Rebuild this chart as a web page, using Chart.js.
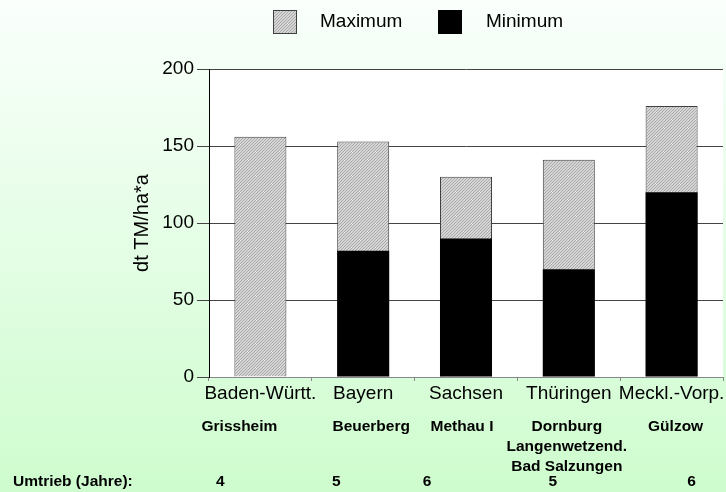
<!DOCTYPE html>
<html>
<head>
<meta charset="utf-8">
<script src="https://cdn.jsdelivr.net/npm/chart.js@4.4.1/dist/chart.umd.min.js"></script>
<style>
  html, body { margin: 0; padding: 0; background: #fff; }
  #chart { display: block; }
</style>
</head>
<body>
<canvas id="chart" width="726" height="492"></canvas>
<script>
// data
const states = ['Baden-Württ.', 'Bayern', 'Sachsen', 'Thüringen', 'Meckl.-Vorp.'];
const sites = [['Grissheim'], ['Beuerberg'], ['Methau I'], ['Dornburg', 'Langenwetzend.', 'Bad Salzungen'], ['Gülzow']];
const rotationYears = [4, 5, 6, 5, 6];
const maxYield = [156, 153, 130, 141, 176];
const minYield = [null, 82, 90, 70, 120];
const yTicks = [0, 50, 100, 150, 200];
const rotationLabel = 'Umtrieb (Jahre):';
const yTitle = 'dt TM/ha*a';

// layout tweaks (pixels, relative to the category centre)
const siteShift = [-21, 8, -4, -2, 4];
const yearShift = [-40, -27, -39, -16, 20];

const FONT = '"Liberation Sans", Arial, Helvetica, sans-serif';

function makeHatch() {
    const c = document.createElement('canvas');
    c.width = 3;
    c.height = 3;
    const g = c.getContext('2d');
    const img = g.createImageData(3, 3);
    for (let y = 0; y < 3; y++) {
        for (let x = 0; x < 3; x++) {
            const i = (y * 3 + x) * 4;
            const v = (x + y) % 3 === 2 ? 168 : 214;
            img.data[i] = v;
            img.data[i + 1] = v;
            img.data[i + 2] = v;
            img.data[i + 3] = 255;
        }
    }
    g.putImageData(img, 0, 0);
    return g.createPattern(c, 'repeat');
}

const canvas = document.getElementById('chart');
const ctx = canvas.getContext('2d');
const hatch = makeHatch();

const backgroundPlugin = {
    id: 'background',
    beforeDraw(chart) {
        const c = chart.ctx;
        const grad = c.createLinearGradient(0, 0, 0, chart.height);
        grad.addColorStop(0, 'rgb(250,255,252)');
        grad.addColorStop(1, 'rgb(206,252,206)');
        c.save();
        c.fillStyle = grad;
        c.fillRect(0, 0, chart.width, chart.height);
        const a = chart.chartArea;
        c.fillStyle = '#ffffff';
        c.fillRect(a.left, a.top, a.right - a.left, a.bottom - a.top);
        c.restore();
    }
};

const legendPlugin = {
    id: 'topLegend',
    afterDraw(chart) {
        const c = chart.ctx;
        const items = [
            { ds: chart.data.datasets[0], box: 273, text: 320 },
            { ds: chart.data.datasets[1], box: 438, text: 486 }
        ];
        c.save();
        c.font = '19px ' + FONT;
        c.textBaseline = 'middle';
        c.textAlign = 'left';
        items.forEach(it => {
            c.fillStyle = it.ds.backgroundColor;
            c.fillRect(it.box, 10, 24, 24);
            c.strokeStyle = it.ds.borderColor;
            c.lineWidth = 1;
            c.strokeRect(it.box + 0.5, 10.5, 23, 23);
            c.fillStyle = '#000';
            c.fillText(it.ds.label, it.text, 22);
        });
        c.restore();
    }
};

const rowsPlugin = {
    id: 'extraRows',
    afterDraw(chart) {
        const c = chart.ctx;
        const xs = chart.scales.x;
        c.save();
        c.font = 'bold 15.5px ' + FONT;
        c.fillStyle = '#000';
        c.textBaseline = 'middle';
        c.textAlign = 'center';
        sites.forEach((lines, i) => {
            const x = xs.getPixelForValue(i) + siteShift[i];
            lines.forEach((line, j) => {
                c.fillText(line, x, 427 + j * 19.7);
            });
        });
        rotationYears.forEach((n, i) => {
            c.fillText(String(n), xs.getPixelForValue(i) + yearShift[i], 481.5);
        });
        c.textAlign = 'left';
        c.fillText(rotationLabel, 13, 481.5);
        c.restore();
    }
};

new Chart(ctx, {
    type: 'bar',
    data: {
        labels: states,
        datasets: [
            {
                label: 'Maximum',
                data: maxYield,
                backgroundColor: hatch,
                borderColor: '#404040',
                borderWidth: 1,
                order: 2
            },
            {
                label: 'Minimum',
                data: minYield,
                backgroundColor: '#000000',
                borderColor: '#000000',
                borderWidth: 0,
                order: 1
            }
        ]
    },
    options: {
        responsive: false,
        animation: false,
        devicePixelRatio: 1,
        layout: { padding: { left: 130, right: 3, top: 69, bottom: 0 } },
        datasets: {
            bar: { grouped: false, categoryPercentage: 1, barPercentage: 0.506 }
        },
        plugins: {
            legend: { display: false },
            tooltip: { enabled: false }
        },
        scales: {
            x: {
                grid: {
                    display: true,
                    drawOnChartArea: false,
                    offset: true,
                    tickLength: 4,
                    color: '#888888'
                },
                border: { display: true, color: '#888888', width: 1 },
                ticks: {
                    color: '#000',
                    padding: 1,
                    maxRotation: 0,
                    autoSkip: false,
                    font: { family: FONT, size: 19 }
                },
                afterFit: s => { s.height = 115; }
            },
            y: {
                min: 0,
                max: 200,
                afterBuildTicks: s => { s.ticks = yTicks.map(v => ({ value: v })); },
                grid: { color: '#444444', lineWidth: 1, tickLength: 12 },
                border: { display: true, color: '#000000', width: 1 },
                ticks: {
                    color: '#000',
                    padding: 3,
                    font: { family: FONT, size: 19 }
                },
                title: {
                    display: true,
                    text: yTitle,
                    color: '#000',
                    padding: 0,
                    font: { family: FONT, size: 20 }
                },
                afterFit: s => { s.width = 79; }
            }
        }
    },
    plugins: [backgroundPlugin, legendPlugin, rowsPlugin]
});
</script>
</body>
</html>
